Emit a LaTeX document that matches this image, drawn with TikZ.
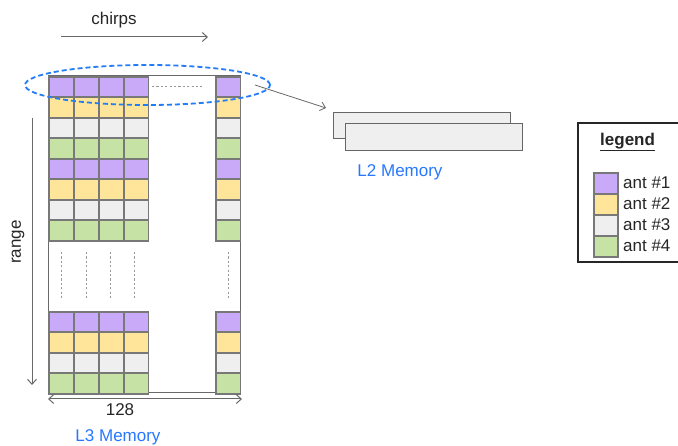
\documentclass[tikz,border=0pt]{standalone}
\usepackage{fontspec}
\setmainfont{Liberation Sans}
\usetikzlibrary{shapes.geometric,arrows.meta}
\definecolor{cpurple}{RGB}{201,170,248}
\definecolor{cyellow}{RGB}{255,229,153}
\definecolor{cgrey}{RGB}{239,239,239}
\definecolor{cgreen}{RGB}{198,226,164}
\definecolor{cborder}{RGB}{120,120,120}
\definecolor{cline}{RGB}{105,105,105}
\definecolor{cblue}{RGB}{35,125,245}
\definecolor{memblue}{RGB}{40,120,255}
\tikzset{
  cell/.style={draw=cborder, line width=1.6pt, minimum width=24.5pt, minimum height=20.5pt, inner sep=0pt, anchor=north west},
  lbl/.style={font=\fontsize{17}{19}\selectfont, inner sep=0pt, text=black!85},
  memlbl/.style={font=\fontsize{17}{19}\selectfont, inner sep=0pt, text=memblue},
  arr/.style={draw=cline, line width=1pt, -{Straight Barb[length=5pt,width=9pt]}},
  dotline/.style={draw=gray!80, line width=1pt, dash pattern=on 2.2pt off 2.2pt},
  memrect/.style={draw=gray!80!black, fill=cgrey, line width=1.3pt, inner sep=0pt, anchor=north west}
}
\begin{document}
\begin{tikzpicture}[x=1pt,y=-1pt]
\clip (0,0) rectangle (678,446);
\fill[white] (0,0) rectangle (678,446);
% frame
\draw[draw=cline, line width=1pt] (48,76) rectangle (240,393);
% cells
\def\colors{{"cpurple","cyellow","cgrey","cgreen"}}
\foreach \c/\x in {1/48,2/73,3/98,4/123,5/215}{
  \foreach \r in {0,...,7}{
    \pgfmathsetmacro{\yy}{76+20.5*\r}
    \pgfmathtruncatemacro{\k}{mod(\r,4)}
    \pgfmathsetmacro{\col}{\colors[\k]}
    \node[cell, fill=\col] (t-\r-\c) at (\x,\yy) {};
  }
  \foreach \r in {0,...,3}{
    \pgfmathsetmacro{\yy}{311+20.5*\r}
    \pgfmathsetmacro{\col}{\colors[\r]}
    \node[cell, fill=\col] (b-\r-\c) at (\x,\yy) {};
  }
}
% dotted continuation
\draw[dotline] (152,87) -- (202,87);
\foreach \x in {61,86,110,134,228}{
  \draw[dotline] (\x,252) -- (\x,298);
}
% chirps
\node[lbl] (chirps) at (114,20) {chirps};
\coordinate (ch1) at (61,37);
\coordinate (ch2) at (208,37);
\draw[arr] (ch1) -- (ch2);
% range
\node[lbl, rotate=90] (range) at (18,242) {range};
\coordinate (r1) at (32,118);
\coordinate (r2) at (32,385);
\draw[arr] (r1) -- (r2);
% 128
\coordinate (w1) at (48,399);
\coordinate (w2) at (242,399);
\draw[draw=cline, line width=1pt, {Straight Barb[length=5pt,width=9pt]}-{Straight Barb[length=5pt,width=9pt]}] (w1) -- (w2);
\node[lbl] (n128) at (120,410) {128};
\node[memlbl] (l3) at (118,437) {L3 Memory};
% ellipse
\node[ellipse, draw=cblue, line width=1.8pt, dash pattern=on 5pt off 3pt, minimum width=245pt, minimum height=40pt, inner sep=0pt] (ell) at (147.5,85) {};
% L2 memory
\node[memrect, minimum width=177pt, minimum height=26pt] (m1) at (333,112) {};
\node[memrect, minimum width=177pt, minimum height=27pt] (m2) at (345,123) {};
\node[memlbl] (l2) at (400,172) {L2 Memory};
\coordinate (e1) at (255,85);
\coordinate (e2) at (326,108);
\draw[arr, line width=0.8pt] (e1) -- (e2);
% legend
\draw[line width=1.3pt, draw=black!85] (700,123) -- (578,123) -- (578,262) -- (700,262);
\node[lbl, anchor=west] (legt) at (600,142) {\underline{\textbf{legend}}};
\foreach \i/\cc in {1/cpurple,2/cyellow,3/cgrey,4/cgreen}{
  \pgfmathsetmacro{\yy}{172+21*(\i-1)}
  \node[cell, fill=\cc, minimum width=24pt, minimum height=21pt] (sw\i) at (593,\yy) {};
  \node[lbl, anchor=west] (lt\i) at (623,\yy+10.5) {ant \#\i};
}
\end{tikzpicture}
\end{document}
